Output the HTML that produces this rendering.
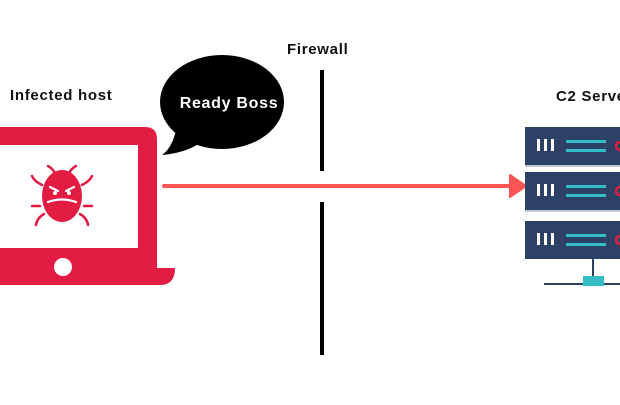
<!DOCTYPE html>
<html><head><style>
body{margin:0;width:620px;height:400px;background:#fff;overflow:hidden;font-family:"Liberation Sans",sans-serif}
</style></head><body>
<svg width="620" height="400" xmlns="http://www.w3.org/2000/svg">
<g font-weight="bold" font-size="15" fill="#111" letter-spacing="0.7">
<text x="10" y="100">Infected host</text>
<text x="287" y="54">Firewall</text>
<text x="556" y="101">C2 Server</text>
</g>
<!-- firewall -->
<line x1="322" y1="70" x2="322" y2="171" stroke="#000" stroke-width="4"/>
<line x1="322" y1="202" x2="322" y2="355" stroke="#000" stroke-width="4"/>
<!-- bubble -->
<path d="M176,130 Q172,148 162,155 Q185,153 200,143 Z" fill="#000"/>
<ellipse cx="222" cy="102" rx="62" ry="47" fill="#000"/>
<text x="229" y="108" text-anchor="middle" fill="#fff" font-weight="bold" font-size="16" letter-spacing="0.7">Ready Boss</text>
<!-- laptop -->
<path d="M-5,127 H145 Q157,127 157,139 V268 H-5 Z" fill="#e31c44"/>
<rect x="-5" y="145" width="143" height="103" fill="#fff"/>
<path d="M-5,268 H175 Q175,285 160,285 H-5 Z" fill="#e31c44"/>
<circle cx="63" cy="267" r="9" fill="#fff"/>
<!-- bug -->
<g fill="#e31c44" stroke="#e31c44" stroke-width="2.5" stroke-linecap="round">
<ellipse cx="62" cy="196" rx="20" ry="26" stroke="none"/>
<path d="M55,173 Q52,168 48,166 M69,173 Q72,168 76,166" fill="none"/>
<path d="M42,185 Q34,181 32,176 M82,185 Q90,181 92,176" fill="none"/>
<line x1="32" y1="206" x2="40" y2="206"/><line x1="84" y1="206" x2="92" y2="206"/>
<path d="M44,214 Q37,218 36,225 M80,214 Q87,218 88,225" fill="none"/>
</g>
<g stroke="#fff" stroke-width="2.2" fill="none" stroke-linecap="round">
<path d="M50,187 L58,191 M74,187 L66,191"/>
<path d="M48,202 Q62,197 76,202"/>
</g>
<circle cx="55" cy="193" r="2" fill="#fff"/><circle cx="69" cy="193" r="2" fill="#fff"/>
<!-- arrow -->
<line x1="164" y1="186" x2="512" y2="186" stroke="#fb5454" stroke-width="4" stroke-linecap="round"/>
<path d="M510,175 L526,186 L510,197 Z" fill="#fb5454" stroke="#fb5454" stroke-width="2" stroke-linejoin="round"/>
<!-- servers -->
<g>
<rect x="525" y="127" width="100" height="38" fill="#2c4165"/>
<rect x="525" y="172" width="100" height="38" fill="#2c4165"/>
<rect x="525" y="221" width="100" height="38" fill="#2c4165"/>
<line x1="525" y1="166" x2="625" y2="166" stroke="#8a93a6" stroke-width="1"/>
<line x1="525" y1="211" x2="625" y2="211" stroke="#8a93a6" stroke-width="1"/>
<g fill="#fff">
<rect x="537" y="139" width="3" height="12"/><rect x="544" y="139" width="3" height="12"/><rect x="551" y="139" width="3" height="12"/>
<rect x="537" y="184" width="3" height="12"/><rect x="544" y="184" width="3" height="12"/><rect x="551" y="184" width="3" height="12"/>
<rect x="537" y="233" width="3" height="12"/><rect x="544" y="233" width="3" height="12"/><rect x="551" y="233" width="3" height="12"/>
</g>
<g fill="#35bdc6">
<rect x="566" y="140" width="40" height="3"/><rect x="566" y="149" width="40" height="3"/>
<rect x="566" y="185" width="40" height="3"/><rect x="566" y="194" width="40" height="3"/>
<rect x="566" y="234" width="40" height="3"/><rect x="566" y="243" width="40" height="3"/>
</g>
<g fill="none" stroke="#e31c44" stroke-width="2.5">
<circle cx="620" cy="146" r="4"/><circle cx="620" cy="191" r="4"/><circle cx="620" cy="240" r="4"/>
</g>
<line x1="593" y1="259" x2="593" y2="278" stroke="#2c4165" stroke-width="2"/>
<line x1="544" y1="284" x2="625" y2="284" stroke="#2c4165" stroke-width="2"/>
<rect x="583" y="276" width="21" height="10" fill="#35bdc6"/>
</g>
</svg>
</body></html>
